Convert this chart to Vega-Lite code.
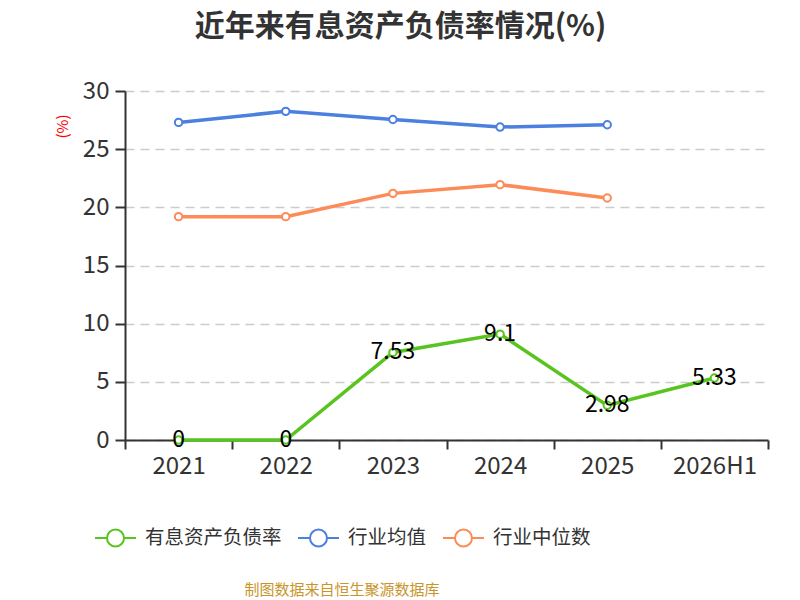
{
  "$schema": "https://vega.github.io/schema/vega-lite/v6.json",
  "width": 643,
  "height": 349,
  "autosize": {"type": "none"},
  "padding": {"left": 125, "top": 91, "right": 32, "bottom": 160},
  "title": {
    "text": "近年来有息资产负债率情况(%)",
    "fontSize": 30,
    "fontWeight": "bold",
    "color": "#333333",
    "font": "Noto Sans CJK SC",
    "anchor": "middle",
    "dx": -46,
    "offset": 37
  },
  "data": {
    "values": [
      {"year": "2021", "series": "有息资产负债率", "value": 0},
      {"year": "2022", "series": "有息资产负债率", "value": 0},
      {"year": "2023", "series": "有息资产负债率", "value": 7.53},
      {"year": "2024", "series": "有息资产负债率", "value": 9.1},
      {"year": "2025", "series": "有息资产负债率", "value": 2.98},
      {"year": "2026H1", "series": "有息资产负债率", "value": 5.33},
      {"year": "2021", "series": "行业均值", "value": 27.3},
      {"year": "2022", "series": "行业均值", "value": 28.25},
      {"year": "2023", "series": "行业均值", "value": 27.55},
      {"year": "2024", "series": "行业均值", "value": 26.9},
      {"year": "2025", "series": "行业均值", "value": 27.1},
      {"year": "2021", "series": "行业中位数", "value": 19.2},
      {"year": "2022", "series": "行业中位数", "value": 19.2},
      {"year": "2023", "series": "行业中位数", "value": 21.2},
      {"year": "2024", "series": "行业中位数", "value": 21.95},
      {"year": "2025", "series": "行业中位数", "value": 20.8}
    ]
  },
  "encoding": {
    "x": {
      "field": "year",
      "type": "ordinal",
      "title": null,
      "sort": null,
      "scale": {"paddingInner": 0, "paddingOuter": 0},
      "axis": {
        "tickBand": "extent",
        "labelAngle": 0,
        "labelFontSize": 24,
        "labelColor": "#333333",
        "labelPadding": 5,
        "tickSize": 9,
        "tickWidth": 2,
        "tickColor": "#333333",
        "domainColor": "#333333",
        "domainWidth": 2,
        "grid": false
      }
    },
    "y": {
      "field": "value",
      "type": "quantitative",
      "scale": {"domain": [0, 30]},
      "axis": {
        "values": [0, 5, 10, 15, 20, 25, 30],
        "title": "(%)",
        "titleColor": "#ff0000",
        "titleFontSize": 15,
        "titleFontWeight": "normal",
        "titleX": -63,
        "titleY": 35,
        "titleAlign": "center",
        "titleBaseline": "middle",
        "titleAngle": -90,
        "labelFontSize": 24,
        "labelColor": "#333333",
        "labelPadding": 6,
        "tickSize": 10,
        "tickWidth": 2,
        "tickColor": "#333333",
        "domainColor": "#333333",
        "domainWidth": 2,
        "grid": true,
        "gridColor": "#cccccc",
        "gridDash": [9, 6],
        "gridWidth": 1.5
      }
    }
  },
  "layer": [
    {
      "mark": {"type": "line", "strokeWidth": 3.5},
      "encoding": {
        "color": {
          "field": "series",
          "type": "nominal",
          "scale": {
            "domain": ["有息资产负债率", "行业均值", "行业中位数"],
            "range": ["#57c41f", "#4b7fe0", "#fd8b57"]
          },
          "legend": {
            "title": "制图数据来自恒生聚源数据库",
            "orient": "none",
            "legendX": -31,
            "legendY": 425,
            "direction": "horizontal",
            "titleOrient": "bottom",
            "titleAnchor": "middle",
            "titleColor": "#c9952b",
            "titleFontSize": 15,
            "titleFontWeight": "normal",
            "titleLimit": 1000,
            "titlePadding": 32,
            "labelFontSize": 19.5,
            "labelColor": "#333333",
            "labelOffset": 8,
            "labelLimit": 500,
            "columnPadding": 12,
            "symbolType": "M-1,0L-0.415,0M0.415,0L1,0M0.415,0A0.415,0.415,0,1,1,-0.415,0A0.415,0.415,0,1,1,0.415,0",
            "symbolSize": 1681,
            "symbolStrokeWidth": 2,
            "symbolFillColor": "white"
          }
        }
      }
    },
    {
      "mark": {"type": "point", "filled": true, "fill": "white", "size": 55, "strokeWidth": 2, "opacity": 1},
      "encoding": {
        "stroke": {
          "field": "series",
          "type": "nominal",
          "scale": {
            "domain": ["有息资产负债率", "行业均值", "行业中位数"],
            "range": ["#57c41f", "#4b7fe0", "#fd8b57"]
          },
          "legend": null
        }
      }
    },
    {
      "transform": [{"filter": "datum.series == '有息资产负债率'"}],
      "mark": {"type": "text", "align": "center", "baseline": "middle", "fontSize": 23, "color": "#000000"},
      "encoding": {
        "text": {"field": "value", "type": "quantitative"}
      }
    }
  ],
  "config": {
    "view": {"stroke": null},
    "font": "Noto Sans CJK SC"
  }
}
